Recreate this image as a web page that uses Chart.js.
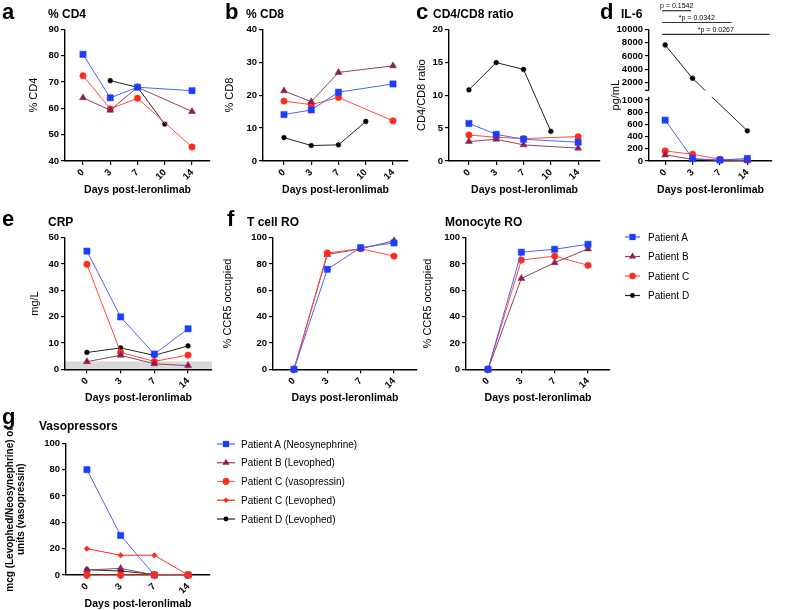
<!DOCTYPE html>
<html>
<head>
<meta charset="utf-8">
<script src="https://cdn.jsdelivr.net/npm/chart.js@4.4.1/dist/chart.umd.min.js"></script>
<style>
    html, body { margin: 0; padding: 0; background: #fff; }
    #page { position: relative; width: 789px; height: 610px; overflow: hidden; }
    #page canvas { position: absolute; }
    #page svg { position: absolute; left: 0; top: 0; }
</style>
</head>
<body>
<div id="page"></div>
<script>
// ============================================================
//  DADOS
// ============================================================

const days5 = ['0', '3', '7', '10', '14'];
const days4 = ['0', '3', '7', '14'];
const patients = ['Patient A', 'Patient B', 'Patient C', 'Patient D'];

// a - % CD4
const cd4A = [80.5, 64, 68, null, 66.7];
const cd4B = [64, 59.3, 68, null, 58.8];
const cd4C = [72.4, 59.8, 63.8, null, 45.3];
const cd4D = [null, 70.5, 68, 54, null];

// b - % CD8
const cd8A = [14.1, 15.5, 20.9, null, 23.4];
const cd8B = [21.3, 18, 26.9, null, 28.9];
const cd8C = [18.2, 17.1, 19.3, null, 12.2];
const cd8D = [7.1, 4.7, 4.9, 12, null];

// c - CD4/CD8 ratio
const ratioA = [5.7, 4.05, 3.3, null, 2.85];
const ratioB = [2.95, 3.3, 2.45, null, 1.95];
const ratioC = [3.95, 3.6, 3.4, null, 3.7];
const ratioD = [10.8, 14.95, 13.9, 4.5, null];

// d - IL-6 (pg/mL)
const il6A = [670, 40, 15, 42];
const il6B = [100, 28, 15, 5];
const il6C = [165, 110, 30, 15];
const il6D = [7650, 2650, null, 495];
const il6Ticks = [0, 200, 400, 600, 800, 1000, 2000, 4000, 6000, 8000, 10000];
const il6Break = 1000;
const pLabels = ['p = 0.1542', '*p = 0.0342', '*p = 0.0267'];
const pEnds = [0.95, 2.42, 3.81];

// e - CRP (mg/L)
const crpA = [44.9, 19.9, 5.8, 15.4];
const crpB = [2.9, 5.3, 2.1, 1.4];
const crpC = [39.9, 6.4, 3, 5.4];
const crpD = [6.4, 8.1, 5.3, 8.9];
const crpNormal = 3;

// f - receptor occupancy
const troA = [0, 76, 92.5, 96];
const troB = [0, 87.2, 91.6, 97.6];
const troC = [0, 88.4, 91.6, 86];
const mroA = [0, 89, 91.2, 95];
const mroB = [0, 69, 81, 91.5];
const mroC = [0, 83, 86, 79];

// g - vasopressors
const vasoNames = ['Patient A (Neosynephrine)', 'Patient B (Levophed)', 'Patient C (vasopressin)',
                   'Patient C (Levophed)', 'Patient D (Levophed)'];
const vasoA = [80, 30, 0, 0];
const vasoB = [3.8, 5, 0, 0];
const vasoCv = [0, 0, 0, 0];
const vasoCl = [20, 15, 15, 0];
const vasoD = [4, 3, 0.5, 0];

// ============================================================
//  ESTILOS
// ============================================================

const FONT = "'Liberation Sans', Arial, sans-serif";
const STY = {
    A:  { c: '#1d3cff', l: '#4d62ff', ps: 'rect', r: 4.4 },
    B:  { c: '#8b1f55', l: '#934066', ps: 'triangle', r: 4 },
    C:  { c: '#ff2a1a', l: '#ff4c3c', ps: 'circle', r: 3.2 },
    Cv: { c: '#ff2a1a', l: '#ff6a5c', ps: 'circle', r: 3.4 },
    Cl: { c: '#ff2a1a', l: '#ff2a1a', ps: 'rectRot', r: 2.8 },
    D:  { c: '#000000', l: '#222222', ps: 'circle', r: 2.4 }
};

const page = document.getElementById('page');

function serie(vals, s) {
    return {
        data: vals.map((v, i) => ({ x: i, y: v })),
        borderColor: s.l,
        borderWidth: 1,
        pointStyle: s.ps,
        pointRadius: s.r,
        pointBackgroundColor: s.c,
        pointBorderColor: s.c,
        pointBorderWidth: 0.5,
        spanGaps: true,
        tension: 0,
        clip: false
    };
}

// Escala com quebra (painel d)
class BrokenScale extends Chart.LinearScale {
    getPixelForValue(value) {
        if (value === null || value === undefined) return NaN;
        const h = this.bottom - this.top;
        const lowFrac = 0.463, highFrac = 0.544;
        if (value <= il6Break) return this.bottom - value / il6Break * lowFrac * h;
        const t = (value - il6Break) / (this.max - il6Break);
        return this.bottom - (highFrac + t * (1 - highFrac)) * h;
    }
}
BrokenScale.id = 'broken';
BrokenScale.defaults = Chart.LinearScale.defaults;
Chart.register(BrokenScale);

// ============================================================
//  PAINÉIS
// ============================================================

function painel(p) {
    const padTop = p.padTop || 8;
    const padRight = 12;
    const left = Math.round(p.tcx - p.tOff);
    const top = Math.floor(p.top - padTop);
    const leftW = p.axisX - left;
    const w = Math.ceil(p.right - left + padRight);
    const h = Math.ceil(p.bottom - top + 34.6);
    const bottomH = h - (p.bottom - top);

    const cv = document.createElement('canvas');
    cv.width = w; cv.height = h;
    cv.style.left = left + 'px';
    cv.style.top = top + 'px';
    page.appendChild(cv);

    const eixo = {
        grid: { drawOnChartArea: false, drawTicks: true, tickLength: 4, color: '#000', lineWidth: 1.2 },
        border: { color: '#000', width: 1.4 }
    };

    return new Chart(cv, {
        type: 'line',
        data: { datasets: p.datasets },
        options: {
            responsive: false,
            animation: false,
            layout: { padding: { left: 0, top: p.top - top, right: padRight, bottom: 0 } },
            plugins: { legend: { display: false }, tooltip: { enabled: false } },
            scales: {
                x: {
                    type: 'linear',
                    min: p.xmin, max: p.xmax,
                    afterBuildTicks: s => { s.ticks = p.labels.map((_, i) => ({ value: i })); },
                    afterFit: s => { s.height = bottomH; },
                    ticks: {
                        callback: v => p.labels[v],
                        autoSkip: false, minRotation: 45, maxRotation: 45,
                        font: { family: FONT, size: 9.5, weight: 'bold' }, color: '#000', padding: 2
                    },
                    title: {
                        display: true, text: 'Days post-leronlimab', color: '#000', padding: 0,
                        font: { family: FONT, size: 10.5, weight: 'bold' }
                    },
                    ...eixo
                },
                y: {
                    type: p.yType || 'linear',
                    min: p.ymin, max: p.ymax,
                    afterBuildTicks: p.yTicks ? (s => { s.ticks = p.yTicks.map(v => ({ value: v })); }) : undefined,
                    afterFit: s => { s.width = leftW; },
                    ticks: {
                        stepSize: p.step,
                        autoSkip: false,
                        callback: v => String(v),
                        font: { family: FONT, size: 9.5, weight: 'bold' }, color: '#000', padding: 2
                    },
                    title: {
                        display: true, text: p.ytitle, color: '#000', padding: 0,
                        font: p.yfont || { family: FONT, size: 11 }
                    },
                    ...eixo
                }
            }
        },
        plugins: p.plugins || []
    });
}

const faixaNormal = {
    id: 'faixaNormal',
    beforeDraw(chart) {
        const { ctx, chartArea, scales } = chart;
        const y0 = scales.y.getPixelForValue(0), y1 = scales.y.getPixelForValue(crpNormal);
        ctx.save();
        ctx.fillStyle = '#d9d9d9';
        ctx.fillRect(chartArea.left, y1, chartArea.right - chartArea.left, y0 - y1);
        ctx.restore();
    }
};

const quebraEixo = {
    id: 'quebraEixo',
    afterDraw(chart) {
        const { ctx, chartArea, scales } = chart;
        const yHi = scales.y.getPixelForValue(il6Break + 1);
        const yLo = scales.y.getPixelForValue(il6Break);
        ctx.save();
        ctx.fillStyle = '#fff';
        ctx.fillRect(chartArea.left - 1.5, yHi + 1.2, chartArea.right - chartArea.left + 2, yLo - yHi - 4.4);
        ctx.strokeStyle = '#000';
        ctx.lineWidth = 1.2;
        ctx.beginPath();
        ctx.moveTo(chartArea.left - 4, yHi + 1);
        ctx.lineTo(chartArea.left, yHi + 1);
        ctx.stroke();

        // barras de significância
        const x0 = scales.x.getPixelForValue(-0.11);
        ctx.font = '7px ' + FONT;
        ctx.textAlign = 'center';
        ctx.textBaseline = 'alphabetic';
        pLabels.forEach((txt, i) => {
            const y = 10.7 + i * 11.8;
            const x1 = scales.x.getPixelForValue(pEnds[i]);
            ctx.strokeStyle = '#333';
            ctx.beginPath();
            ctx.moveTo(x0, y);
            ctx.lineTo(x1, y);
            ctx.stroke();
            ctx.fillStyle = '#000';
            ctx.fillText(txt, (x0 + x1) / 2, y - 2.5);
        });
        ctx.restore();
    }
};

painel({
    labels: days5, axisX: 65, right: 210, top: 29.3, bottom: 161, xmin: -0.66, xmax: 4.66,
    ymin: 40, ymax: 90, step: 10, ytitle: '% CD4', tcx: 34, tOff: 6.6,
    datasets: [serie(cd4A, STY.A), serie(cd4B, STY.B), serie(cd4C, STY.C), serie(cd4D, STY.D)]
});
painel({
    labels: days5, axisX: 263, right: 408, top: 29.3, bottom: 161, xmin: -0.77, xmax: 4.55,
    ymin: 0, ymax: 40, step: 10, ytitle: '% CD8', tcx: 230, tOff: 6.6,
    datasets: [serie(cd8A, STY.A), serie(cd8B, STY.B), serie(cd8C, STY.C), serie(cd8D, STY.D)]
});
painel({
    labels: days5, axisX: 449, right: 600, top: 29.3, bottom: 161, xmin: -0.73, xmax: 4.8,
    ymin: 0, ymax: 20, step: 5, ytitle: 'CD4/CD8 ratio', tcx: 422, tOff: 6.6,
    datasets: [serie(ratioA, STY.A), serie(ratioB, STY.B), serie(ratioC, STY.C), serie(ratioD, STY.D)]
});
painel({
    labels: days4, axisX: 649, right: 772, top: 29.3, bottom: 161, padTop: 29.3, xmin: -0.59, xmax: 3.9,
    yType: 'broken', ymin: 0, ymax: 10000, yTicks: il6Ticks, ytitle: 'pg/mL', tcx: 616, tOff: 6.6,
    datasets: [serie(il6A, STY.A), serie(il6B, STY.B), serie(il6C, STY.C), serie(il6D, STY.D)],
    plugins: [quebraEixo]
});
painel({
    labels: days4, axisX: 65, right: 212, top: 237.7, bottom: 369.3, xmin: -0.65, xmax: 3.71,
    ymin: 0, ymax: 50, step: 10, ytitle: 'mg/L', tcx: 35, tOff: 6.6,
    datasets: [serie(crpA, STY.A), serie(crpB, STY.B), serie(crpC, STY.C), serie(crpD, STY.D)],
    plugins: [faixaNormal]
});
painel({
    labels: days4, axisX: 273, right: 417, top: 237.7, bottom: 369.3, xmin: -0.63, xmax: 3.69,
    ymin: 0, ymax: 100, step: 20, ytitle: '% CCR5 occupied', tcx: 228, tOff: 6.6,
    datasets: [serie(troA, STY.A), serie(troC, STY.C), serie(troB, STY.B)]
});
painel({
    labels: days4, axisX: 466, right: 610, top: 237.7, bottom: 369.3, xmin: -0.66, xmax: 3.66,
    ymin: 0, ymax: 100, step: 20, ytitle: '% CCR5 occupied', tcx: 428, tOff: 6.6,
    datasets: [serie(mroA, STY.A), serie(mroB, STY.B), serie(mroC, STY.C)]
});
painel({
    labels: days4, axisX: 66, right: 210, top: 443.3, bottom: 575, padTop: 28, xmin: -0.62, xmax: 3.65,
    ymin: 0, ymax: 100, step: 20, tcx: 10, tOff: 5.5,
    ytitle: ['mcg (Levophed/Neosynephrine) or', 'units (vasopressin)'],
    yfont: { family: FONT, size: 10, weight: 'bold', lineHeight: 1.1 },
    datasets: [serie(vasoCv, STY.Cv), serie(vasoCl, STY.Cl), serie(vasoB, STY.B),
               serie(vasoD, STY.D), serie(vasoA, STY.A)]
});

// ============================================================
//  TEXTOS E LEGENDAS (SVG)
// ============================================================

const NS = 'http://www.w3.org/2000/svg';
const svg = document.createElementNS(NS, 'svg');
svg.setAttribute('width', 789);
svg.setAttribute('height', 610);
page.appendChild(svg);

function el(tag, attrs, txt) {
    const e = document.createElementNS(NS, tag);
    for (const k in attrs) e.setAttribute(k, attrs[k]);
    if (txt !== undefined) e.textContent = txt;
    svg.appendChild(e);
    return e;
}

function texto(x, y, t, size, weight) {
    el('text', { x, y, 'font-family': FONT, 'font-size': size, 'font-weight': weight || 'normal', fill: '#000' }, t);
}

[['a', 2, 19], ['b', 225, 19], ['c', 416, 19], ['d', 600, 19],
 ['e', 2, 226], ['f', 227, 226], ['g', 2, 424]].forEach(([t, x, y]) => texto(x, y, t, 22, 'bold'));

[['% CD4', 48, 18], ['% CD8', 246, 18], ['CD4/CD8 ratio', 433, 18], ['IL-6', 621, 18],
 ['CRP', 48, 226], ['T cell RO', 247, 226], ['Monocyte RO', 445, 226],
 ['Vasopressors', 39, 430]].forEach(([t, x, y]) => texto(x, y, t, 12, 'bold'));

function marcador(x, y, s) {
    const r = s.r;
    if (s.ps === 'rect') {
        const a = Math.SQRT1_2 * r;
        el('rect', { x: x - a, y: y - a, width: 2 * a, height: 2 * a, fill: s.c });
    } else if (s.ps === 'triangle') {
        const pts = [[0, -r], [0.866 * r, 0.5 * r], [-0.866 * r, 0.5 * r]].map(([dx, dy]) => (x + dx) + ',' + (y + dy)).join(' ');
        el('polygon', { points: pts, fill: s.c });
    } else if (s.ps === 'rectRot') {
        const pts = [[0, -r], [r, 0], [0, r], [-r, 0]].map(([dx, dy]) => (x + dx) + ',' + (y + dy)).join(' ');
        el('polygon', { points: pts, fill: s.c });
    } else {
        el('circle', { cx: x, cy: y, r, fill: s.c });
    }
}

function legenda(nomes, estilos, x0, x1, tx, y0, dy) {
    nomes.forEach((n, i) => {
        const y = y0 + i * dy;
        const s = estilos[i];
        el('line', { x1: x0, y1: y, x2: x1, y2: y, stroke: s.l, 'stroke-width': 1.2 });
        marcador((x0 + x1) / 2, y, s);
        texto(tx, y + 3.6, n, 10);
    });
}

legenda(patients, [STY.A, STY.B, STY.C, STY.D], 625, 640, 648, 237, 19.5);
legenda(vasoNames, [STY.A, STY.B, STY.Cv, STY.Cl, STY.D], 217, 235, 241, 444, 18.75);
</script>
</body>
</html>
